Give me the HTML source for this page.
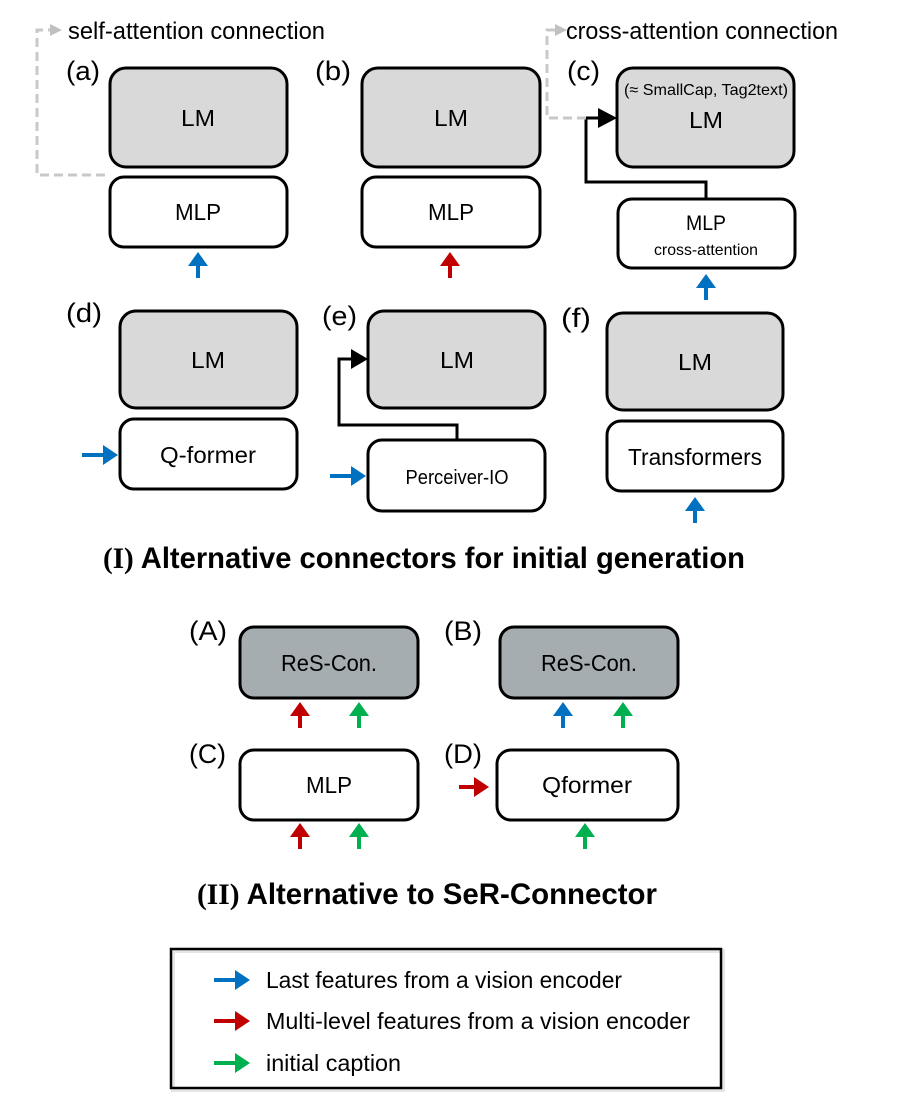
<!DOCTYPE html>
<html><head><meta charset="utf-8"><style>
html,body{margin:0;padding:0;background:#fff;}
svg{display:block;font-family:"Liberation Sans",sans-serif;}
</style></head><body>
<svg width="897" height="1103" viewBox="0 0 897 1103" xmlns="http://www.w3.org/2000/svg">
<defs>
<symbol id="up" viewBox="-11 -14 22 27" overflow="visible">
</symbol>
</defs>
<g fill="none" stroke="#000" stroke-width="3">
<!-- (a) -->
<rect x="110" y="68" width="177" height="99" rx="16" fill="#d9d9d9"/>
<rect x="110" y="177" width="177" height="70" rx="14" fill="#fff"/>
<!-- (b) -->
<rect x="362" y="68" width="178" height="99" rx="16" fill="#d9d9d9"/>
<rect x="362" y="177" width="178" height="70" rx="14" fill="#fff"/>
<!-- (c) -->
<rect x="617" y="68" width="177" height="99" rx="16" fill="#d9d9d9"/>
<rect x="618" y="199" width="177" height="69" rx="14" fill="#fff"/>
<polyline points="706,199 706,182 586,182 586,118 600,118"/>
<!-- (d) -->
<rect x="120" y="311" width="177" height="97" rx="16" fill="#d9d9d9"/>
<rect x="120" y="419" width="177" height="70" rx="14" fill="#fff"/>
<!-- (e) -->
<rect x="368" y="311" width="177" height="97" rx="16" fill="#d9d9d9"/>
<rect x="368" y="440" width="177" height="71" rx="14" fill="#fff"/>
<polyline points="457,440 457,425 339,425 339,359 352,359"/>
<!-- (f) -->
<rect x="607" y="313" width="176" height="97" rx="16" fill="#d9d9d9"/>
<rect x="607" y="421" width="176" height="70" rx="14" fill="#fff"/>
<!-- II -->
<rect x="240" y="627" width="178" height="71" rx="14" fill="#a5adb1"/>
<rect x="500" y="627" width="178" height="71" rx="14" fill="#a5adb1"/>
<rect x="240" y="750" width="178" height="70" rx="14" fill="#fff"/>
<rect x="497" y="750" width="181" height="70" rx="14" fill="#fff"/>
</g>
<!-- black arrow heads -->
<polygon points="598,108 617,118 598,128" fill="#000"/>
<polygon points="351,349 368,359 351,369" fill="#000"/>
<!-- dashed gray -->
<g fill="none" stroke="#c8c8c8" stroke-width="3" stroke-dasharray="9,5">
<polyline points="105,175 37,175 37,30 50,30"/>
<polyline points="586,118 547,118 547,30 555,30"/>
</g>
<polygon points="50,24 62,30 50,36" fill="#c0c0c0"/>
<polygon points="555,24 567,30 555,36" fill="#c0c0c0"/>
<!-- up arrows: stem + head -->
<g id="arrows">
<g fill="#0070c0" stroke="#0070c0">
<line x1="198" y1="266" x2="198" y2="278" stroke-width="4"/><polygon points="188,266 208,266 198,252" stroke="none"/>
<line x1="706" y1="288" x2="706" y2="300" stroke-width="4"/><polygon points="696,288 716,288 706,274" stroke="none"/>
<line x1="695" y1="511" x2="695" y2="523" stroke-width="4"/><polygon points="685,511 705,511 695,497" stroke="none"/>
<line x1="563" y1="716" x2="563" y2="728" stroke-width="4"/><polygon points="553,716 573,716 563,702" stroke="none"/>
<line x1="82" y1="455" x2="104" y2="455" stroke-width="4"/><polygon points="103,445 103,465 118,455" stroke="none"/>
<line x1="330" y1="476" x2="352" y2="476" stroke-width="4"/><polygon points="351,466 351,486 366,476" stroke="none"/>
<line x1="214" y1="980" x2="236" y2="980" stroke-width="4"/><polygon points="235,970 235,990 250,980" stroke="none"/>
</g>
<g fill="#c00000" stroke="#c00000">
<line x1="450" y1="266" x2="450" y2="278" stroke-width="4"/><polygon points="440,266 460,266 450,252" stroke="none"/>
<line x1="300" y1="716" x2="300" y2="728" stroke-width="4"/><polygon points="290,716 310,716 300,702" stroke="none"/>
<line x1="300" y1="837" x2="300" y2="849" stroke-width="4"/><polygon points="290,837 310,837 300,823" stroke="none"/>
<line x1="459" y1="787" x2="476" y2="787" stroke-width="4"/><polygon points="474,777 474,797 489,787" stroke="none"/>
<line x1="214" y1="1021" x2="236" y2="1021" stroke-width="4"/><polygon points="235,1011 235,1031 250,1021" stroke="none"/>
</g>
<g fill="#00b050" stroke="#00b050">
<line x1="359" y1="716" x2="359" y2="728" stroke-width="4"/><polygon points="349,716 369,716 359,702" stroke="none"/>
<line x1="623" y1="716" x2="623" y2="728" stroke-width="4"/><polygon points="613,716 633,716 623,702" stroke="none"/>
<line x1="359" y1="837" x2="359" y2="849" stroke-width="4"/><polygon points="349,837 369,837 359,823" stroke="none"/>
<line x1="585" y1="837" x2="585" y2="849" stroke-width="4"/><polygon points="575,837 595,837 585,823" stroke="none"/>
<line x1="214" y1="1063" x2="236" y2="1063" stroke-width="4"/><polygon points="235,1053 235,1073 250,1063" stroke="none"/>
</g>
</g>
<!-- legend box -->
<rect x="173" y="951" width="550" height="139" fill="none" stroke="#e6e6e6" stroke-width="4"/>
<rect x="171" y="949" width="550" height="139" fill="none" stroke="#000" stroke-width="2.5"/>
<!-- text -->
<g fill="#000" font-size="24">
<text x="68" y="39" textLength="257" lengthAdjust="spacingAndGlyphs">self-attention connection</text>
<text x="566" y="39" textLength="272" lengthAdjust="spacingAndGlyphs">cross-attention connection</text>
<g font-size="27">
<text x="66" y="80" textLength="34" lengthAdjust="spacingAndGlyphs">(a)</text>
<text x="315" y="80" textLength="36" lengthAdjust="spacingAndGlyphs">(b)</text>
<text x="567" y="80" textLength="33" lengthAdjust="spacingAndGlyphs">(c)</text>
<text x="66" y="322" textLength="36" lengthAdjust="spacingAndGlyphs">(d)</text>
<text x="322" y="325" textLength="35" lengthAdjust="spacingAndGlyphs">(e)</text>
<text x="561" y="327" textLength="30" lengthAdjust="spacingAndGlyphs">(f)</text>
<text x="189" y="640" textLength="38" lengthAdjust="spacingAndGlyphs">(A)</text>
<text x="444" y="640" textLength="38" lengthAdjust="spacingAndGlyphs">(B)</text>
<text x="189" y="763" textLength="37" lengthAdjust="spacingAndGlyphs">(C)</text>
<text x="444" y="763" textLength="38" lengthAdjust="spacingAndGlyphs">(D)</text>
</g>
<g text-anchor="middle" font-size="23">
<text x="198" y="126" textLength="34" lengthAdjust="spacingAndGlyphs">LM</text>
<text x="198" y="220" textLength="46" lengthAdjust="spacingAndGlyphs">MLP</text>
<text x="451" y="126" textLength="34" lengthAdjust="spacingAndGlyphs">LM</text>
<text x="451" y="220" textLength="46" lengthAdjust="spacingAndGlyphs">MLP</text>
<text x="706" y="128" textLength="34" lengthAdjust="spacingAndGlyphs">LM</text>
<text x="706" y="230" textLength="40" lengthAdjust="spacingAndGlyphs" font-size="21">MLP</text>
<text x="706" y="95" font-size="16" textLength="164" lengthAdjust="spacingAndGlyphs">(≈ SmallCap, Tag2text)</text>
<text x="706" y="255" font-size="16" textLength="104" lengthAdjust="spacingAndGlyphs">cross-attention</text>
<text x="208" y="368" textLength="34" lengthAdjust="spacingAndGlyphs">LM</text>
<text x="208" y="463" textLength="96" lengthAdjust="spacingAndGlyphs">Q-former</text>
<text x="457" y="368" textLength="34" lengthAdjust="spacingAndGlyphs">LM</text>
<text x="457" y="484" font-size="20" textLength="103" lengthAdjust="spacingAndGlyphs">Perceiver-IO</text>
<text x="695" y="370" textLength="34" lengthAdjust="spacingAndGlyphs">LM</text>
<text x="695" y="465" textLength="134" lengthAdjust="spacingAndGlyphs">Transformers</text>
<text x="329" y="671" textLength="96" lengthAdjust="spacingAndGlyphs">ReS-Con.</text>
<text x="589" y="671" textLength="96" lengthAdjust="spacingAndGlyphs">ReS-Con.</text>
<text x="329" y="793" textLength="46" lengthAdjust="spacingAndGlyphs">MLP</text>
<text x="587" y="793" textLength="90" lengthAdjust="spacingAndGlyphs">Qformer</text>
</g>
<g font-weight="bold" font-size="30">
<text x="103" y="568" textLength="642" lengthAdjust="spacingAndGlyphs"><tspan font-family="Liberation Serif">(I)</tspan> Alternative connectors for initial generation</text>
<text x="197" y="904" textLength="460" lengthAdjust="spacingAndGlyphs"><tspan font-family="Liberation Serif">(II)</tspan> Alternative to SeR-Connector</text>
</g>
<g font-size="23">
<text x="266" y="988" textLength="356" lengthAdjust="spacingAndGlyphs">Last features from a vision encoder</text>
<text x="266" y="1029" textLength="424" lengthAdjust="spacingAndGlyphs">Multi-level features from a vision encoder</text>
<text x="266" y="1071" textLength="135" lengthAdjust="spacingAndGlyphs">initial caption</text>
</g>
</g>
</svg>
</body></html>
